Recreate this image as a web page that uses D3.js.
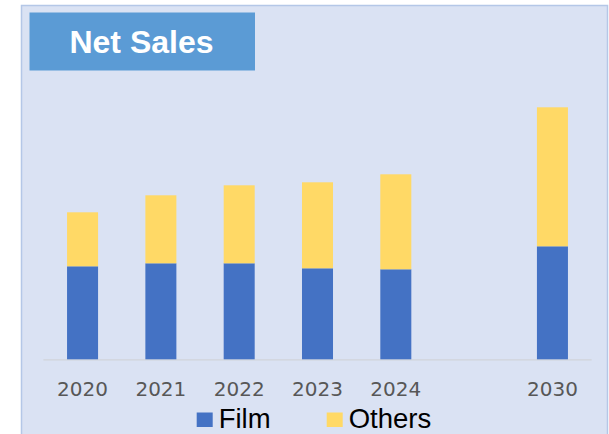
<!DOCTYPE html>
<html>
<head>
<meta charset="utf-8">
<script src="https://cdn.jsdelivr.net/npm/d3@7/dist/d3.min.js"></script>
<style>
  html, body { margin: 0; padding: 0; background: #ffffff; }
  svg { display: block; }
</style>
</head>
<body>
<svg id="chart" width="609" height="434"></svg>
<script>
// Categories (one empty slot between 2024 and 2030)
const categories = ["2020", "2021", "2022", "2023", "2024", "", "2030"];
const years = ["2020", "2021", "2022", "2023", "2024", "2030"];
// Series values (relative units)
const film = [93, 96, 96, 91, 90, 113];
const others = [54, 68, 78, 86, 95, 139];
const seriesNames = ["Film", "Others"];
const seriesColors = ["#4472C4", "#FFD966"];
const titleText = "Net Sales";

const svg = d3.select("#chart");

// Panel background
svg.append("rect")
  .attr("x", 21.5).attr("y", 5.5)
  .attr("width", 586).attr("height", 440)
  .attr("fill", "#DAE2F3")
  .attr("stroke", "#B4C7E7")
  .attr("stroke-width", 1.5);

// Title box
svg.append("rect")
  .attr("x", 29.5).attr("y", 12.5)
  .attr("width", 225.5).attr("height", 58)
  .attr("fill", "#5B9BD5");
svg.append("text")
  .attr("x", 141.5).attr("y", 53)
  .attr("text-anchor", "middle")
  .attr("font-family", "Liberation Sans, Arial, sans-serif")
  .attr("font-weight", "bold")
  .attr("font-size", 32)
  .attr("fill", "#ffffff")
  .text(titleText);

// Scales
const x = d3.scaleBand().domain(categories).range([43.4, 591.6]).padding(0);
const y = d3.scaleLinear().domain([0, 260]).range([359.3, 99.3]);
const barW = x.bandwidth() * 0.396;

const data = years.map((yr, i) => ({ year: yr, Film: film[i], Others: others[i] }));
const stack = d3.stack().keys(seriesNames)(data);
const color = d3.scaleOrdinal().domain(seriesNames).range(seriesColors);

// Axis line
svg.append("line")
  .attr("x1", x.range()[0]).attr("x2", x.range()[1])
  .attr("y1", y(0) + 0.5).attr("y2", y(0) + 0.5)
  .attr("stroke", "#D0D3DA").attr("stroke-width", 1.2);

// Bars
svg.append("g").selectAll("g")
  .data(stack).join("g")
  .attr("fill", d => color(d.key))
  .selectAll("rect")
  .data(d => d).join("rect")
  .attr("x", d => x(d.data.year) + x.bandwidth() / 2 - barW / 2)
  .attr("y", d => y(d[1]))
  .attr("width", barW)
  .attr("height", d => y(d[0]) - y(d[1]));

// X axis labels
const xAxis = d3.axisBottom(x).tickSize(0).tickPadding(0)
  .tickValues(years);
const gx = svg.append("g").attr("transform", `translate(0, ${y(0)})`).call(xAxis);
gx.select(".domain").remove();
gx.selectAll("text")
  .attr("dy", null)
  .attr("y", 36.8)
  .attr("font-family", "DejaVu Sans, Verdana, sans-serif")
  .attr("font-size", 20)
  .attr("fill", "#575757");

// Legend
const legendX = [196.7, 326.7];
const legend = svg.append("g");
seriesNames.forEach((name, i) => {
  legend.append("rect")
    .attr("x", legendX[i]).attr("y", 412.5)
    .attr("width", 16).attr("height", 14.5)
    .attr("fill", seriesColors[i]);
  legend.append("text")
    .attr("x", legendX[i] + 22).attr("y", 427.5)
    .attr("font-family", "Liberation Sans, Arial, sans-serif")
    .attr("font-size", 27.5)
    .attr("fill", "#000000")
    .text(name);
});
</script>
</body>
</html>
